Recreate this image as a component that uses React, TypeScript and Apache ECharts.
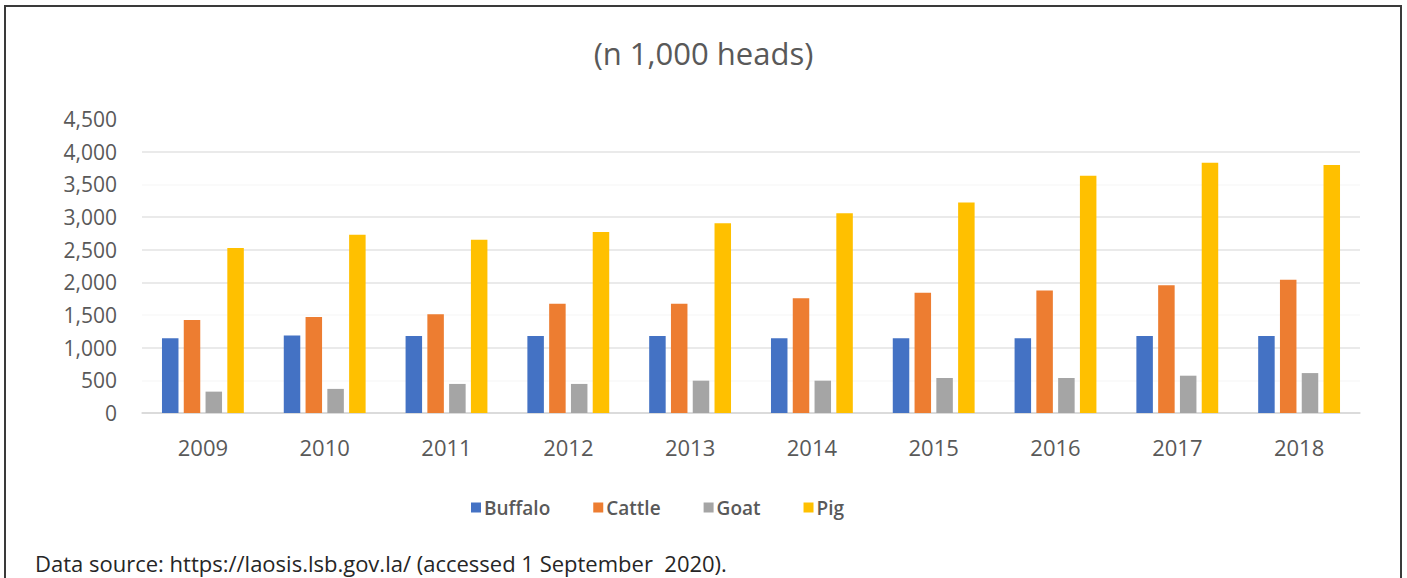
import React, { useEffect, useRef } from "react";
import * as echarts from "echarts";

const years = ["2009", "2010", "2011", "2012", "2013", "2014", "2015", "2016", "2017", "2018"];
const buffalo = [1145, 1185, 1180, 1180, 1180, 1145, 1145, 1145, 1180, 1180];
const cattle = [1424, 1470, 1511, 1673, 1673, 1755, 1840, 1876, 1957, 2038];
const goat = [327, 369, 445, 445, 495, 495, 536, 536, 571, 611];
const pig = [2526, 2730, 2653, 2770, 2906, 3059, 3222, 3633, 3831, 3796];

const seriesNames = ["Buffalo", "Cattle", "Goat", "Pig"];
const seriesColors = ["#4472C4", "#ED7D31", "#A5A5A5", "#FFC000"];
const titleText = "(n 1,000 heads)";
const footerText = "Data source: https://laosis.lsb.gov.la/ (accessed 1 September  2020).";

const FONT = "'Open Sans', 'Noto Sans', sans-serif";

export default function App() {
  const ref = useRef<HTMLDivElement>(null);
  useEffect(() => {
    if (!ref.current) return;
    const chart = echarts.init(ref.current, undefined, { renderer: "svg" });
    const values = [buffalo, cattle, goat, pig];
    chart.setOption({
      animation: false,
      backgroundColor: "#ffffff",
      textStyle: { fontFamily: FONT },
      title: {
        text: titleText,
        left: "center",
        top: 32,
        textStyle: { fontFamily: FONT, fontSize: 31, fontWeight: "normal", color: "#595959" },
      },
      legend: {
        data: seriesNames,
        left: 466,
        top: 493,
        icon: "rect",
        itemWidth: 10,
        itemHeight: 10,
        itemGap: 43,
        textStyle: { fontFamily: FONT, fontSize: 19, fontWeight: 600, color: "#595959", padding: [0, 0, 0, -2] },
      },
      grid: { left: 142, right: 47, top: 119, bottom: 165, containLabel: false },
      xAxis: {
        type: "category",
        data: years,
        axisLine: { show: true, lineStyle: { color: "#d9d9d9", width: 1.5 } },
        axisTick: { show: false },
        axisLabel: { margin: 23, fontFamily: FONT, fontSize: 22, color: "#595959" },
      },
      yAxis: {
        type: "value",
        min: 0,
        max: 4500,
        interval: 500,
        axisLine: { show: false },
        axisTick: { show: false },
        axisLabel: {
          margin: 25,
          fontFamily: FONT,
          fontSize: 21,
          color: "#595959",
          formatter: (v: number) => v.toLocaleString("en-US"),
        },
        splitLine: {
          lineStyle: {
            color: ["#d9d9d9", "#f9f9f9", "#e3e3e3", "#f9f9f9", "#e3e3e3", "#e3e3e3", "#e3e3e3", "#f9f9f9", "#e3e3e3", "#ffffff"],
            width: 1.5,
          },
        },
      },
      series: seriesNames.map((name, i) => ({
        name,
        type: "bar",
        data: values[i],
        barWidth: 16.5,
        barGap: "32%",
        itemStyle: { color: seriesColors[i] },
      })),
      graphic: [
        {
          type: "rect",
          shape: { x: 5, y: 6, width: 1396, height: 620 },
          style: { fill: "none", stroke: "#3a3a3a", lineWidth: 2 },
          silent: true,
        },
        {
          type: "text",
          x: 35,
          y: 563,
          style: {
            text: footerText,
            fontFamily: FONT,
            fontSize: 22,
            fill: "#262626",
            verticalAlign: "middle",
            align: "left",
          },
        },
      ],
    });
    return () => chart.dispose();
  }, []);
  return (
    <div
      ref={ref}
      style={{ position: "fixed", left: 0, top: 0, width: 1407, height: 578, background: "#fff" }}
    />
  );
}
